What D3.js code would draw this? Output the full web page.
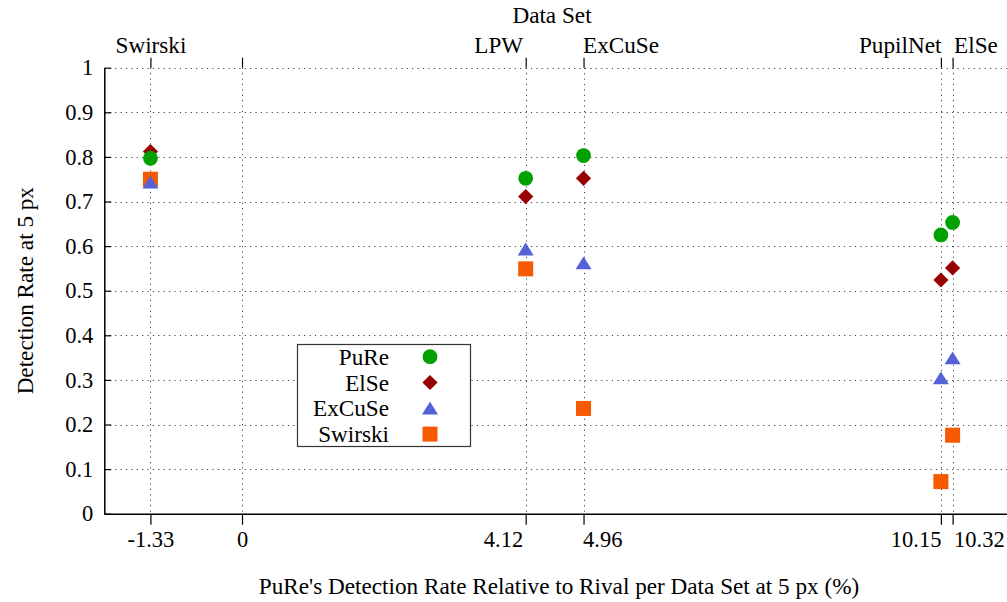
<!DOCTYPE html>
<html>
<head>
<meta charset="utf-8">
<script src="https://cdn.jsdelivr.net/npm/d3@7"></script>
<style>
  html, body { margin: 0; padding: 0; background: #fff; }
  svg { display: block; font-family: "Liberation Serif", "DejaVu Serif", serif; }
</style>
</head>
<body>
<svg id="chart" width="1007" height="602"></svg>
<script>
// Relative gain of PuRe over the best rival on each data set (%)
const dataSets = ["Swirski", "LPW", "ExCuSe", "PupilNet", "ElSe"];
const relGain = [-1.33, 4.12, 4.96, 10.15, 10.32];
const bottomTicks = [-1.33, 0, 4.12, 4.96, 10.15, 10.32];
const bottomTickLabels = ["-1.33", "0", "4.12", "4.96", "10.15", "10.32"];
const yTicks = [0, 0.1, 0.2, 0.3, 0.4, 0.5, 0.6, 0.7, 0.8, 0.9, 1];
const yTickLabels = ["0", "0.1", "0.2", "0.3", "0.4", "0.5", "0.6", "0.7", "0.8", "0.9", "1"];

// Detection rate at 5 px per algorithm, ordered as dataSets
const algorithms = ["PuRe", "ElSe", "ExCuSe", "Swirski"];
const pureRate    = [0.797, 0.752, 0.803, 0.625, 0.653];
const elseRate    = [0.812, 0.711, 0.752, 0.524, 0.551];
const excuseRate  = [0.743, 0.593, 0.562, 0.304, 0.349];
const swirskiRate = [0.750, 0.549, 0.236, 0.072, 0.176];

const colors = ["#00a000", "#990000", "#5462d6", "#f55a00"];
const shapes = ["circle", "diamond", "triangle", "square"];
const rates = [pureRate, elseRate, excuseRate, swirskiRate];

const svg = d3.select("#chart");
const plotLeft = 104.3, plotRight = 1007, plotTop = 67.7, plotBottom = 513.7;
const tickFont = 22.5, textFont = 23.2;

const x = d3.scaleLinear().domain([-2, 11.11]).range([plotLeft, plotRight]);
const y = d3.scaleLinear().domain([0, 1]).range([plotBottom, plotTop]);

// Label placement for ticks that sit close together: anchor left or right of the tick
const anchorFor = d => (d === 4.12 || d === 10.15) ? "end" : (d === 4.96 || d === 10.32) ? "start" : "middle";
const shiftFor = d => (d === 4.12) ? -3 : (d === 10.15) ? 0 : (d === 4.96) ? -1 : (d === 10.32) ? 1 : 0;

// Dotted grid
const grid = svg.append("g").attr("stroke", "#222").attr("stroke-width", 1)
  .attr("stroke-dasharray", "1.2,4.2").attr("opacity", 0.85);
grid.selectAll("line.h").data(yTicks.slice(1)).join("line")
  .attr("x1", plotLeft).attr("x2", plotRight)
  .attr("y1", d => Math.round(y(d)) + 0.5).attr("y2", d => Math.round(y(d)) + 0.5);
grid.selectAll("line.v").data(bottomTicks).join("line")
  .attr("y1", plotTop).attr("y2", plotBottom)
  .attr("x1", d => Math.round(x(d)) + 0.5).attr("x2", d => Math.round(x(d)) + 0.5);

// Left axis: inward ticks
const yAxis = d3.axisLeft(y).tickValues(yTicks).tickSizeInner(-7).tickSizeOuter(0)
  .tickPadding(11).tickFormat((d, i) => yTickLabels[i]);
const gy = svg.append("g").attr("transform", `translate(${plotLeft},0)`).call(yAxis);
gy.select(".domain").attr("stroke", "#000").attr("stroke-width", 1.5);
gy.selectAll(".tick line").attr("stroke", "#000").attr("stroke-width", 1.2);
gy.selectAll("text").attr("font-size", tickFont).attr("font-family", "Liberation Serif").attr("fill", "#000");

// Bottom axis
const xAxis = d3.axisBottom(x).tickValues(bottomTicks).tickSizeInner(11).tickSizeOuter(0)
  .tickPadding(6).tickFormat((d, i) => bottomTickLabels[i]);
const gx = svg.append("g").attr("transform", `translate(0,${plotBottom})`).call(xAxis);
gx.select(".domain").attr("stroke", "#000").attr("stroke-width", 1.5);
gx.selectAll(".tick line").attr("stroke", "#000").attr("stroke-width", 1.2);
gx.selectAll("text").attr("font-size", tickFont).attr("font-family", "Liberation Serif").attr("fill", "#000")
  .attr("text-anchor", anchorFor).attr("dx", shiftFor);

// Top axis: data set names
const topTicks = [-1.33, 0, 4.12, 4.96, 10.15, 10.32];
const topLabel = d => { const i = relGain.indexOf(d); return i >= 0 ? dataSets[i] : ""; };
const x2Axis = d3.axisTop(x).tickValues(topTicks).tickSizeInner(10).tickSizeOuter(0)
  .tickPadding(5).tickFormat(topLabel);
const gx2 = svg.append("g").attr("transform", `translate(0,${plotTop})`).call(x2Axis);
gx2.select(".domain").remove();
gx2.selectAll(".tick line").attr("stroke", "#000").attr("stroke-width", 1.2);
gx2.selectAll("text").attr("font-size", textFont).attr("font-family", "Liberation Serif").attr("fill", "#000")
  .attr("text-anchor", anchorFor).attr("dx", shiftFor);

// Axis titles
svg.append("text").attr("x", 552).attr("y", 23).attr("text-anchor", "middle")
  .attr("font-size", textFont).text("Data Set");
svg.append("text").attr("x", 559).attr("y", 594).attr("text-anchor", "middle")
  .attr("font-size", textFont).text("PuRe's Detection Rate Relative to Rival per Data Set at 5 px (%)");
svg.append("text").attr("transform", `translate(33,${(plotTop + plotBottom) / 2}) rotate(-90)`)
  .attr("text-anchor", "middle").attr("font-size", textFont).text("Detection Rate at 5 px");

// Marker drawing
function marker(g, shape, color) {
  if (shape === "circle") {
    g.append("circle").attr("r", 7.4).attr("fill", color);
  } else if (shape === "diamond") {
    g.append("path").attr("d", "M0,-7.6L7.6,0L0,7.6L-7.6,0Z").attr("fill", color);
  } else if (shape === "triangle") {
    g.append("path").attr("d", "M0,-6.6L8,6.2L-8,6.2Z").attr("fill", color);
  } else {
    g.append("rect").attr("x", -7.5).attr("y", -7.5).attr("width", 15).attr("height", 15).attr("fill", color);
  }
}

// Points: ElSe under PuRe, Swirski under ExCuSe
const pts = svg.append("g");
const drawOrder = [1, 0, 3, 2];
drawOrder.forEach(s => {
  rates[s].forEach((v, i) => {
    const g = pts.append("g").attr("transform", `translate(${x(relGain[i])},${y(v)})`);
    marker(g, shapes[s], colors[s]);
  });
});

// Legend
const lg = svg.append("g");
lg.append("rect").attr("x", 297.5).attr("y", 344.5).attr("width", 173).attr("height", 102)
  .attr("fill", "#fff").attr("stroke", "#333").attr("stroke-width", 1.2);
algorithms.forEach((name, i) => {
  const cy = 356.7 + i * 25.8;
  lg.append("text").attr("x", 389).attr("y", cy).attr("dy", "0.35em")
    .attr("text-anchor", "end").attr("font-size", textFont).text(name);
  const g = lg.append("g").attr("transform", `translate(430,${cy})`);
  marker(g, shapes[i], colors[i]);
});
</script>
</body>
</html>
